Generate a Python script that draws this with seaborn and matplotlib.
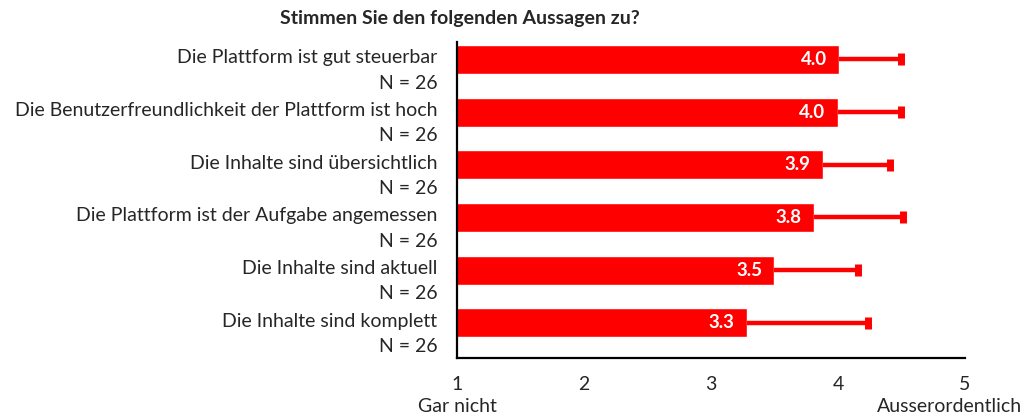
import matplotlib
matplotlib.use('Agg')
import matplotlib.pyplot as plt
import seaborn as sns
import pandas as pd
import numpy as np

# survey items (top to bottom)
items = ['Die Plattform ist gut steuerbar',
         'Die Benutzerfreundlichkeit der Plattform ist hoch',
         'Die Inhalte sind übersichtlich',
         'Die Plattform ist der Aufgabe angemessen',
         'Die Inhalte sind aktuell',
         'Die Inhalte sind komplett']
n_resp = [26, 26, 26, 26, 26, 26]
means = [4.01, 4.00, 3.88, 3.81, 3.50, 3.28]
sd_plus = [0.49, 0.50, 0.53, 0.70, 0.66, 0.96]
value_labels = ['4.0', '4.0', '3.9', '3.8', '3.5', '3.3']
x_ticks = [1, 2, 3, 4, 5]
scale_low = 'Gar nicht'
scale_high = 'Ausserordentlich'
title = 'Stimmen Sie den folgenden Aussagen zu?'


def draw_figure():
    sns.set_style('white')
    plt.rcParams['font.family'] = ['Lato', 'DejaVu Sans']

    df = pd.DataFrame({'item': items, 'mean': means})

    fig = plt.figure(figsize=(10.27, 4.16), dpi=100)
    ax = fig.add_axes([0.445, 0.139, 0.4946, 0.760])

    sns.barplot(data=df, x='mean', y='item', color='#ff0000', saturation=1,
                width=0.55, orient='h', ax=ax)

    ypos = np.arange(len(items))
    eb = ax.errorbar(means, ypos, xerr=[np.zeros(len(means)), sd_plus],
                     fmt='none', ecolor='#ff0000', elinewidth=3.2,
                     capsize=4.3, capthick=5)
    # only the upper side has a cap
    eb[1][0].set_visible(False)

    for y, m, lab in zip(ypos, means, value_labels):
        ax.annotate(lab, xy=(m, y), xytext=(-9, 0), textcoords='offset points',
                    ha='right', va='center', color='white', fontweight='bold',
                    fontsize=13.5)

    ax.set_xlim(1, 5)
    ax.set_ylim(len(items) - 0.33, -0.33)
    ax.set_xticks(x_ticks)
    ax.set_xticklabels([str(t) for t in x_ticks], fontsize=14)
    ax.set_yticks(ypos + 0.10)
    ax.set_yticklabels(['%s\nN = %d' % (it, n) for it, n in zip(items, n_resp)],
                       fontsize=14, linespacing=1.6, multialignment='right')
    ax.set_xlabel('')
    ax.set_ylabel('')

    ax.tick_params(axis='y', length=0, pad=14)
    ax.tick_params(axis='x', direction='in', length=4, width=1.5, pad=13,
                   color='black')
    for s in ['top', 'right']:
        ax.spines[s].set_visible(False)
    for s in ['left', 'bottom']:
        ax.spines[s].set_color('black')
        ax.spines[s].set_linewidth(1.6)

    ax.annotate(scale_low, xy=(1, 0), xycoords=('data', 'axes fraction'),
                xytext=(0, -29), textcoords='offset points', ha='center',
                va='top', fontsize=14)
    ax.annotate(scale_high, xy=(5, 0), xycoords=('data', 'axes fraction'),
                xytext=(41, -29), textcoords='offset points', ha='right',
                va='top', fontsize=14)

    fig.text(0.448, 0.955, title, ha='center', va='center', fontweight='bold',
             fontsize=14)

    fig.savefig('out.png', dpi=100)


if __name__ == '__main__':
    draw_figure()
